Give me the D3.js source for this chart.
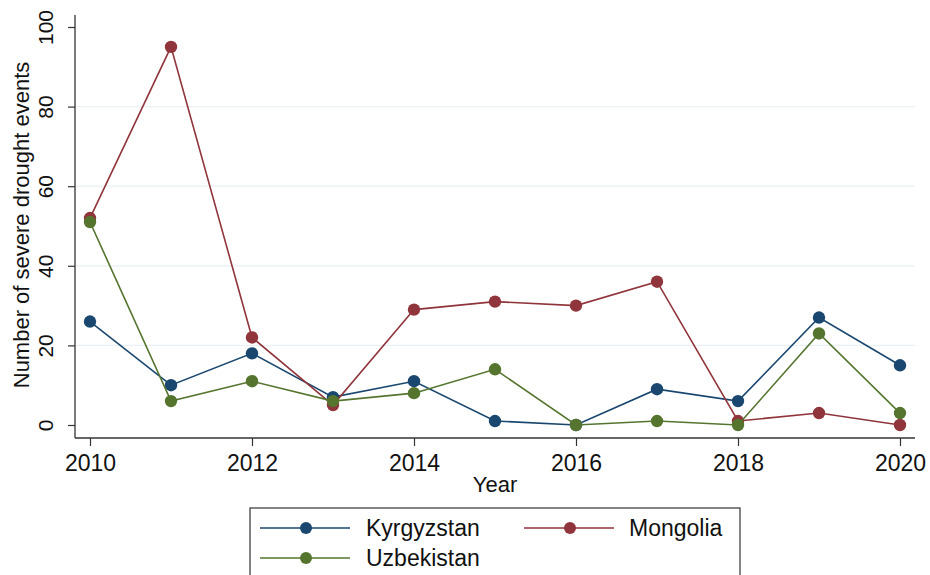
<!DOCTYPE html>
<html><head><meta charset="utf-8">
<script src="https://cdn.jsdelivr.net/npm/d3@7"></script>
<style>body{margin:0;background:#fff}svg{display:block;font-family:"Liberation Sans",Arial,sans-serif}</style>
</head><body><svg id="c" width="930" height="575"></svg>
<script>
const years = [2010,2011,2012,2013,2014,2015,2016,2017,2018,2019,2020];
const kyrgyzstan = [26,10,18,7,11,1,0,9,6,27,15];
const mongolia = [52,95,22,5,29,31,30,36,1,3,0];
const uzbekistan = [51,6,11,6,8,14,0,1,0,23,3];
const xTicks = [2010,2012,2014,2016,2018,2020];
const yTicks = [0,20,40,60,80,100];
const seriesNames = ["Kyrgyzstan","Mongolia","Uzbekistan"];
const seriesColors = ["#1a476f","#90353b","#55752f"];

const svg = d3.select("#c");
const x = d3.scaleLinear().domain([2010,2020]).range([90,900]);
const y = d3.scaleLinear().domain([0,100]).range([425,27]);

// gridlines
svg.append("g").selectAll("line").data(yTicks.filter(d=>d>0&&d<100)).join("line")
  .attr("x1",76).attr("x2",915).attr("y1",d=>y(d)).attr("y2",d=>y(d))
  .attr("stroke","#eaf0f3").attr("stroke-width",1.2);

// axes
const yAxis = d3.axisLeft(y).tickValues(yTicks).tickSize(7).tickPadding(6).tickSizeOuter(0);
const gy = svg.append("g").attr("transform","translate(75,0)").call(yAxis);
gy.select(".domain").attr("d","M0,15V438").attr("stroke","#333").attr("stroke-width",1.3);
gy.selectAll(".tick line").attr("stroke","#333").attr("stroke-width",1.2);
gy.selectAll(".tick text").attr("font-size",21).attr("fill","#111")
  .attr("text-anchor","middle").attr("x",0).attr("y",0).attr("dy","0")
  .attr("transform","rotate(-90) translate(0,-22)");

const xAxis = d3.axisBottom(x).tickValues(xTicks).tickFormat(d3.format("d")).tickSize(8).tickPadding(6).tickSizeOuter(0);
const gx = svg.append("g").attr("transform","translate(0,438)").call(xAxis);
gx.select(".domain").attr("d","M75,0H915").attr("stroke","#333").attr("stroke-width",1.3);
gx.selectAll(".tick line").attr("stroke","#333").attr("stroke-width",1.2);
gx.selectAll(".tick text").attr("font-size",23).attr("fill","#111").attr("y",33).attr("dy","0");

svg.append("text").attr("x",495).attr("y",492).attr("text-anchor","middle").attr("font-size",22).attr("fill","#111").text("Year");
svg.append("text").attr("transform","translate(29,225) rotate(-90)").attr("text-anchor","middle").attr("font-size",22).attr("fill","#111").text("Number of severe drought events");

// series
const allSeries = [kyrgyzstan, mongolia, uzbekistan];
const line = d3.line().x((d,i)=>x(years[i])).y(d=>y(d));
allSeries.forEach((vals,k)=>{
  const g = svg.append("g");
  g.append("path").attr("d",line(vals)).attr("fill","none").attr("stroke",seriesColors[k]).attr("stroke-width",1.6);
  g.selectAll("circle").data(vals).join("circle").attr("cx",(d,i)=>x(years[i])).attr("cy",d=>y(d)).attr("r",6.2).attr("fill",seriesColors[k]);
});

// legend
const lg = svg.append("g");
lg.append("rect").attr("x",250).attr("y",508).attr("width",490).attr("height",80).attr("fill","#fff").attr("stroke","#333").attr("stroke-width",1.2);
const legPos = [[260,528],[524,528],[260,558]];
seriesNames.forEach((n,k)=>{
  const [lx,ly]=legPos[k];
  lg.append("line").attr("x1",lx).attr("x2",lx+90).attr("y1",ly).attr("y2",ly).attr("stroke",seriesColors[k]).attr("stroke-width",1.6);
  lg.append("circle").attr("cx",lx+46).attr("cy",ly).attr("r",6).attr("fill",seriesColors[k]);
  lg.append("text").attr("x",k===1?629:366).attr("y",ly+8).attr("font-size",23).attr("fill","#111").text(n);
});
</script></body></html>
